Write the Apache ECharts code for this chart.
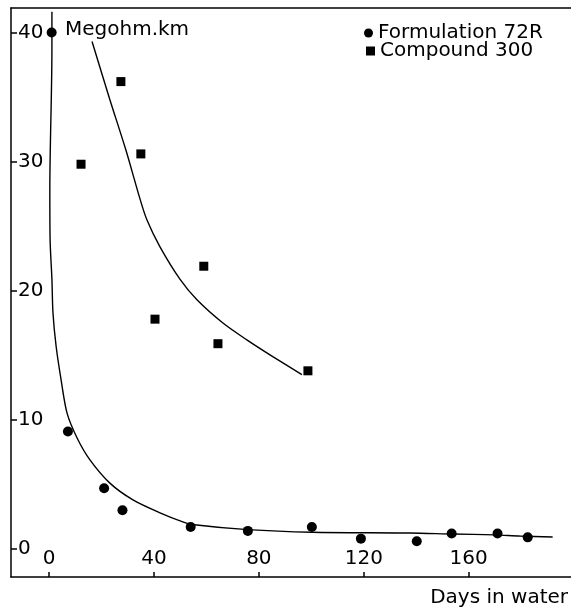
<!DOCTYPE html>
<html>
<head>
<meta charset="utf-8">
<script src="https://cdn.jsdelivr.net/npm/echarts@6/dist/echarts.min.js"></script>
<style>
html,body{margin:0;padding:0;background:#fff;}
#c{width:571px;height:608px;}
</style>
</head>
<body>
<div id="c"></div>
<script>
// Formulation 72R measurements
const days72R = [1, 7.2, 21, 28, 54, 75.8, 100.2, 118.9, 140.2, 153.5, 171, 182.5];
const mohm72R = [40, 9.1, 4.7, 3.0, 1.7, 1.4, 1.7, 0.8, 0.6, 1.2, 1.2, 0.9];
// Compound 300 measurements
const days300 = [12.2, 27.4, 35, 40.4, 59, 64.4, 98.7];
const mohm300 = [29.8, 36.2, 30.6, 17.8, 21.9, 15.9, 13.8];
// hand-drawn fitted curves
const fitDays72R = [1.1, 1.1, 0.3, 0.4, 1.1, 1.5, 2.7, 4.6, 6.9, 10.7, 15.6, 23.2, 32, 42.3, 51, 54.5, 75.8, 100.2, 137.5, 153.5, 170, 179.4, 192];
const fitMohm72R = [41.6, 38.7, 27.8, 24.0, 20.9, 18.3, 15.7, 13.1, 10.5, 8.6, 6.9, 5.1, 3.8, 2.8, 2.1, 1.9, 1.5, 1.3, 1.24, 1.16, 1.09, 1.0, 0.93];
const fitDays300 = [16.4, 23.2, 29.3, 34.7, 37.3, 42.3, 49.9, 56.4, 66.3, 75.4, 85.3, 96.4];
const fitMohm300 = [39.3, 34.8, 30.9, 27.1, 25.5, 23.4, 20.9, 19.3, 17.5, 16.2, 14.9, 13.5];
// tick labels
const xTicks = [0, 40, 80, 120, 160];
const yTicks = [0, 10, 20, 30, 40];

const zip = (a, b) => a.map((v, i) => [v, b[i]]);
const FONT = 'DejaVu Sans';
const INK = '#000';

const chart = echarts.init(document.getElementById('c'), null, {renderer: 'canvas'});
chart.setOption({
  animation: false,
  backgroundColor: '#fff',
  textStyle: {fontFamily: FONT, color: INK},
  grid: {left: 11, right: 0, top: 8, bottom: 31, containLabel: false},
  title: [
    {text: 'Megohm.km', left: 65, top: 20, padding: 0, textStyle: {fontFamily: FONT, fontSize: 20, fontWeight: 'normal', color: INK}},
    {text: 'Days in water', right: 3, top: 588, padding: 0, textStyle: {fontFamily: FONT, fontSize: 20, fontWeight: 'normal', color: INK}}
  ],
  legend: [
    {data: [{name: 'Formulation 72R', icon: 'circle'}], left: 359, top: 18, itemWidth: 9, itemHeight: 9, itemGap: 0,
     textStyle: {fontFamily: FONT, fontSize: 20, color: INK}, selectedMode: false},
    {data: [{name: 'Compound 300', icon: 'rect'}], left: 361, top: 36, itemWidth: 9, itemHeight: 9, itemGap: 0,
     textStyle: {fontFamily: FONT, fontSize: 20, color: INK}, selectedMode: false}
  ],
  xAxis: [
    {type: 'value', min: -14.5, max: 199, position: 'bottom',
     axisLine: {show: true, onZero: false, lineStyle: {color: INK, width: 1.5}},
     axisTick: {show: true, inside: true, length: 5, customValues: xTicks, lineStyle: {color: INK, width: 1.5}},
     axisLabel: {inside: true, margin: 8, customValues: xTicks, fontFamily: FONT, fontSize: 20, color: INK},
     splitLine: {show: false}},
    {type: 'value', min: -14.5, max: 199, position: 'top',
     axisLine: {show: true, onZero: false, lineStyle: {color: INK, width: 1.5}},
     axisTick: {show: false}, axisLabel: {show: false}, splitLine: {show: false}}
  ],
  yAxis: {
    type: 'value', min: -2.17, max: 41.9,
    axisLine: {show: true, onZero: false, lineStyle: {color: INK, width: 1.5}},
    axisTick: {show: true, inside: true, length: 6, customValues: yTicks, lineStyle: {color: INK, width: 1.5}},
    axisLabel: {inside: true, margin: 7, customValues: yTicks, fontFamily: FONT, fontSize: 20, color: INK},
    splitLine: {show: false}
  },
  series: [
    {name: 'Formulation 72R fit', type: 'line', data: zip(fitDays72R, fitMohm72R), showSymbol: false, smooth: 0.3,
     lineStyle: {color: INK, width: 1.4}, silent: true},
    {name: 'Compound 300 fit', type: 'line', data: zip(fitDays300, fitMohm300), showSymbol: false, smooth: 0.3,
     lineStyle: {color: INK, width: 1.4}, silent: true},
    {name: 'Formulation 72R', type: 'scatter', symbol: 'circle', symbolSize: 10, data: zip(days72R, mohm72R),
     itemStyle: {color: INK, opacity: 1}},
    {name: 'Compound 300', type: 'scatter', symbol: 'rect', symbolSize: 9, data: zip(days300, mohm300),
     itemStyle: {color: INK, opacity: 1}}
  ]
});
</script>
</body>
</html>
